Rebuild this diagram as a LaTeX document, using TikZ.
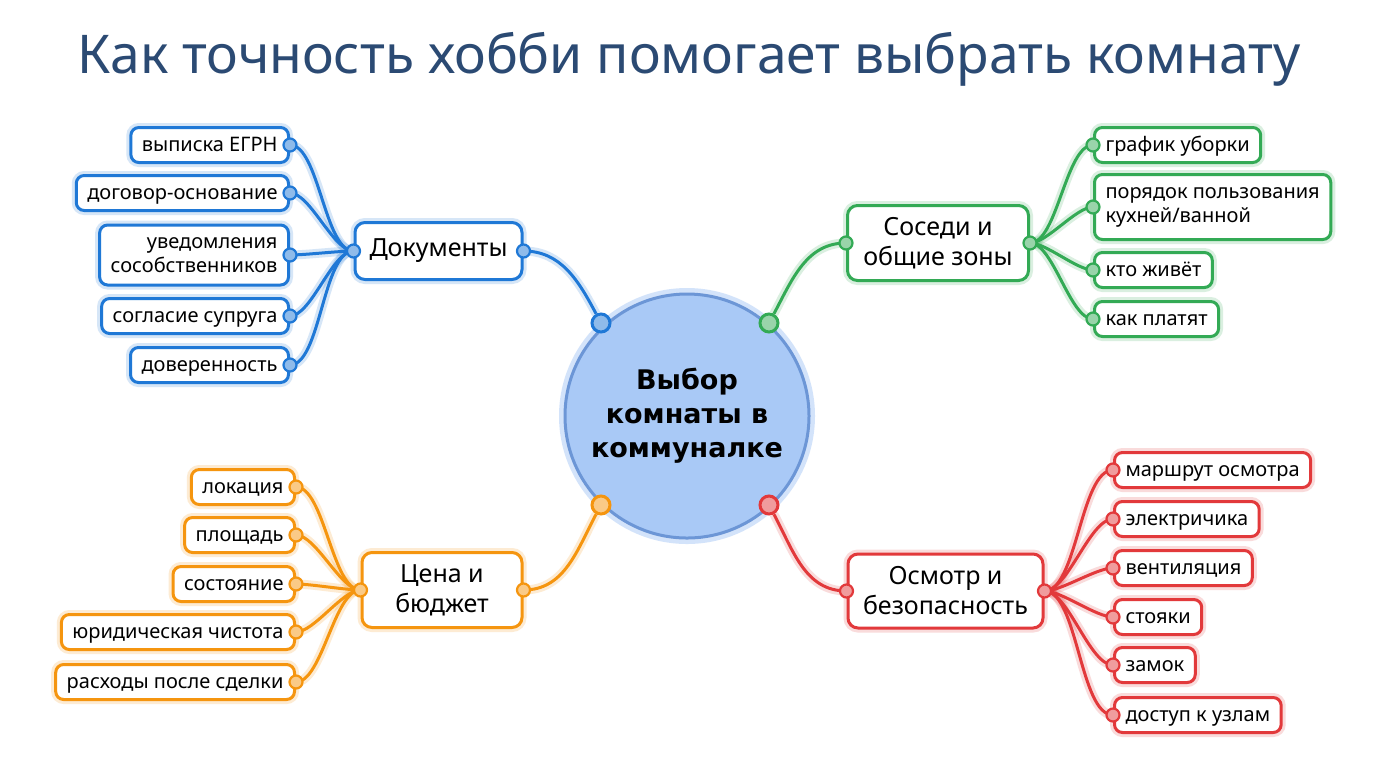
\documentclass[tikz,border=0pt]{standalone}
\usepackage{fontspec}
\setmainfont{Noto Sans}
\newfontfamily\cbold{DejaVu Sans}
\pgfdeclarelayer{back}
\pgfdeclarelayer{bg}
\pgfsetlayers{back,bg,main}
\definecolor{cblue}{HTML}{1F78D6}
\definecolor{cgreen}{HTML}{33AA55}
\definecolor{corange}{HTML}{F5950F}
\definecolor{cred}{HTML}{E2393B}
\definecolor{ctitle}{HTML}{2B4A73}
\definecolor{ccfill}{HTML}{A9C9F6}
\definecolor{ccdraw}{HTML}{6C96D6}
\tikzset{
  glow/.style={preaction={draw=#1, line width=4.5pt, draw opacity=0.18}},
  leafL/.style={draw=#1, line width=1.5pt, rounded corners=4pt, fill=white, inner xsep=5.5pt, inner ysep=2pt,
    minimum height=17.5pt, text height=8.8pt, text depth=2pt, font=\fontsize{10}{12}\selectfont, align=right, anchor=east, glow=#1},
  leafR/.style={draw=#1, line width=1.5pt, rounded corners=4pt, fill=white, inner xsep=5.5pt, inner ysep=2pt,
    minimum height=17.5pt, text height=8.8pt, text depth=2pt, font=\fontsize{10}{12}\selectfont, align=left, anchor=west, glow=#1},
  twoline/.style={text height={}, text depth={}},
  branch/.style={draw=#1, line width=1.5pt, rounded corners=5pt, fill=white, inner sep=2pt,
    font=\fontsize{12.5}{15}\selectfont, align=center, glow=#1},
  dot/.style={circle, draw=#1, fill=#1!50!white, line width=1.1pt, inner sep=0pt, minimum size=6.5pt},
  bigdot/.style={circle, draw=#1, fill=#1!50!white, line width=1.5pt, inner sep=0pt, minimum size=9pt},
  link/.style={draw=#1, line width=1.5pt, glow=#1},
}
\begin{document}
\begin{tikzpicture}[x=0.5pt,y=-0.5pt]
\useasboundingbox (0,0) rectangle (1376,768);
\begin{pgfonlayer}{back}
\fill[white] (0,0) rectangle (1376,768);
\end{pgfonlayer}

% title
\node[anchor=base, text=ctitle, font=\fontsize{26.7}{30}\selectfont, inner sep=0pt] (title) at (689,73) {Как точность хобби помогает выбрать комнату};

% centre
\node[circle, minimum size=122pt, inner sep=0pt, fill=ccfill, draw=ccdraw, line width=1.5pt,
  preaction={draw=ccfill, line width=6pt, draw opacity=0.5},
  font=\cbold\bfseries\fontsize{13.5}{17}\selectfont, align=center] (c) at (687,416) {Выбор\\комнаты в\\коммуналке};

% branches
\node[branch=cblue, minimum width=83.5pt, minimum height=28.5pt] (docs) at (438.5,251) {Документы};
\node[branch=cgreen, minimum width=90.5pt, minimum height=37.5pt] (neigh) at (938,243) {Соседи и\\общие зоны};
\node[branch=corange, minimum width=80pt, minimum height=37.5pt] (price) at (442,590) {Цена и\\бюджет};
\node[branch=cred, minimum width=97.5pt, minimum height=37pt] (insp) at (945.5,591) {Осмотр и\\безопасность};

% blue leaves
\node[leafL=cblue] (b1) at (290,145) {выписка ЕГРН};
\node[leafL=cblue] (b2) at (290,193) {договор-основание};
\node[leafL=cblue, twoline, minimum height=30pt] (b3) at (290,255) {уведомления\\сособственников};
\node[leafL=cblue] (b4) at (290,316) {согласие супруга};
\node[leafL=cblue] (b5) at (290,365) {доверенность};

% orange leaves
\node[leafL=corange] (o1) at (296,487) {локация};
\node[leafL=corange] (o2) at (296,535) {площадь};
\node[leafL=corange] (o3) at (296,584) {состояние};
\node[leafL=corange] (o4) at (296,632) {юридическая чистота};
\node[leafL=corange] (o5) at (296,682) {расходы после сделки};

% green leaves
\node[leafR=cgreen] (g1) at (1093,145) {график уборки};
\node[leafR=cgreen, twoline, minimum height=32.5pt] (g2) at (1093,207) {порядок пользования\\кухней/ванной};
\node[leafR=cgreen] (g3) at (1093,270) {кто живёт};
\node[leafR=cgreen] (g4) at (1093,319) {как платят};

% red leaves
\node[leafR=cred] (r1) at (1113,470) {маршрут осмотра};
\node[leafR=cred] (r2) at (1113,519) {электричика};
\node[leafR=cred] (r3) at (1113,568) {вентиляция};
\node[leafR=cred] (r4) at (1113,617) {стояки};
\node[leafR=cred] (r5) at (1113,665) {замок};
\node[leafR=cred] (r6) at (1113,715) {доступ к узлам};

% centre dots
\node[bigdot=cblue] (cb) at (601,323) {};
\node[bigdot=cgreen] (cg) at (769,323) {};
\node[bigdot=corange] (co) at (601,505) {};
\node[bigdot=cred] (cr) at (769,505) {};

% connectors
\begin{pgfonlayer}{bg}
\draw[link=cblue] (cb) to[out=118,in=0] (docs.east);
\draw[link=cgreen] (cg) to[out=62,in=180] (neigh.west);
\draw[link=corange] (co) to[out=242,in=0] (price.east);
\draw[link=cred] (cr) to[out=-62,in=180] (insp.west);
\foreach \n in {b1,b2,b3,b4,b5}
  \draw[link=cblue] (docs.west) to[out=180,in=0,looseness=0.6] (\n.east);
\foreach \n in {o1,o2,o3,o4,o5}
  \draw[link=corange] (price.west) to[out=180,in=0,looseness=0.6] (\n.east);
\foreach \n in {g1,g2,g3,g4}
  \draw[link=cgreen] (neigh.east) to[out=0,in=180,looseness=0.6] (\n.west);
\foreach \n in {r1,r2,r3,r4,r5,r6}
  \draw[link=cred] (insp.east) to[out=0,in=180,looseness=0.6] (\n.west);
\end{pgfonlayer}

% branch and leaf dots
\node[dot=cblue] at (docs.east) {};
\node[dot=cblue] at (docs.west) {};
\node[dot=cgreen] at (neigh.east) {};
\node[dot=cgreen] at (neigh.west) {};
\node[dot=corange] at (price.east) {};
\node[dot=corange] at (price.west) {};
\node[dot=cred] at (insp.east) {};
\node[dot=cred] at (insp.west) {};
\foreach \n in {b1,b2,b3,b4,b5} \node[dot=cblue] at (\n.east) {};
\foreach \n in {o1,o2,o3,o4,o5} \node[dot=corange] at (\n.east) {};
\foreach \n in {g1,g2,g3,g4} \node[dot=cgreen] at (\n.west) {};
\foreach \n in {r1,r2,r3,r4,r5,r6} \node[dot=cred] at (\n.west) {};
\end{tikzpicture}
\end{document}
